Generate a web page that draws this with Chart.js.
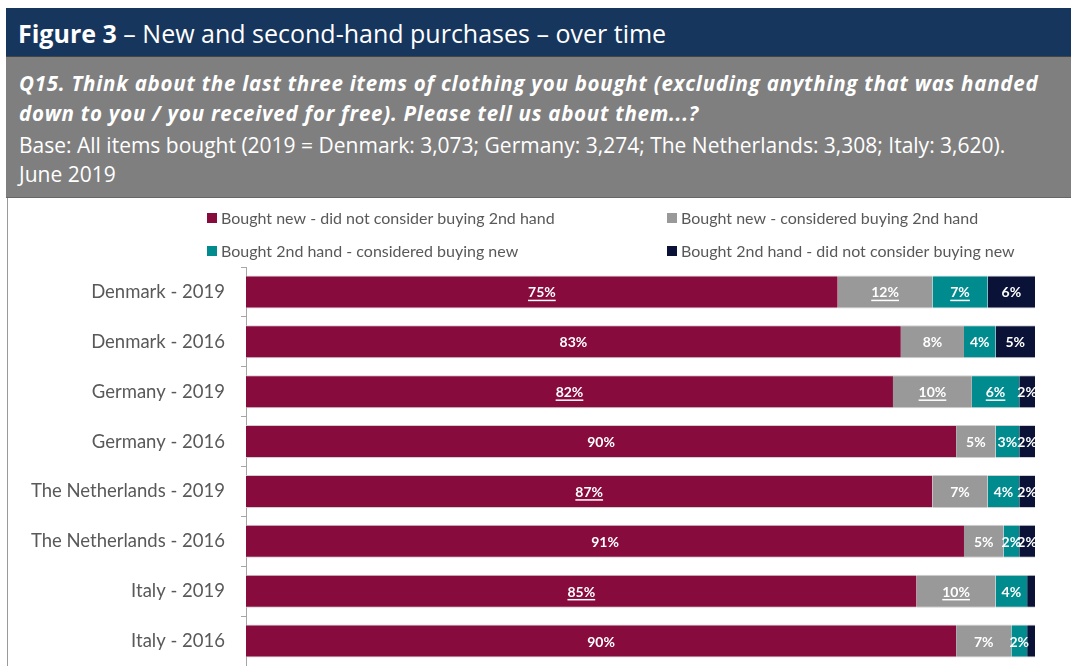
<!DOCTYPE html>
<html>
<head>
<meta charset="utf-8">
<script src="https://cdn.jsdelivr.net/npm/chart.js@4/dist/chart.umd.min.js"></script>
<style>
  html, body { margin: 0; padding: 0; background: #fff; width: 1071px; height: 666px; overflow: hidden; }
  #title { position: absolute; left: 6px; top: 8px; width: 1065px; height: 49px; background: #17365d; color: #fff;
           font-family: "Open Sans", sans-serif; font-size: 25px; line-height: 50px; box-sizing: border-box; padding-left: 12px; white-space: nowrap;
           border-bottom: 1px solid #444; }
  #title b { font-weight: 700; }
  #sub { position: absolute; left: 6px; top: 57px; width: 1065px; height: 141px; background: #7f7f7f; color: #fff;
         font-family: "Open Sans", sans-serif; box-sizing: border-box; padding: 11px 0 0 13px;
         border-bottom: 1px solid #666; }
  #sub .q { font-weight: 700; font-style: italic; font-size: 20.5px; line-height: 30px; letter-spacing: 0.75px; white-space: nowrap; }
  #sub .b { font-size: 21px; line-height: 29px; margin-top: 3px; white-space: nowrap; }
  #box { position: absolute; left: 7px; top: 198px; width: 1064px; height: 468px; border-left: 1px solid #9a9a9a; }
  #wrap { position: absolute; left: 8px; top: 198px; width: 1063px; height: 468px; }
  canvas { display: block; }
</style>
</head>
<body>
<div id="title"><b>Figure 3</b> – New and second-hand purchases – over time</div>
<div id="sub"><div class="q">Q15. Think about the last three items of clothing you bought (excluding anything that was handed<br>down to you / you received for free). Please tell us about them...?</div><div class="b">Base: All items bought (2019 = Denmark: 3,073; Germany: 3,274; The Netherlands: 3,308; Italy: 3,620).<br>June 2019</div></div>
<div id="box"></div>
<div id="wrap"><canvas id="c" width="1063" height="468"></canvas></div>
<script>
const categories = ["Denmark - 2019", "Denmark - 2016", "Germany - 2019", "Germany - 2016",
                    "The Netherlands - 2019", "The Netherlands - 2016", "Italy - 2019", "Italy - 2016"];
const seriesNames = ["Bought new - did not consider buying 2nd hand", "Bought new - considered buying 2nd hand",
                     "Bought 2nd hand - considered buying new", "Bought 2nd hand - did not consider buying new"];
const newNoConsider   = [75, 83, 82, 90, 87, 91, 85, 90];
const newConsidered   = [12,  8, 10,  5,  7,  5, 10,  7];
const usedConsidered  = [ 7,  4,  6,  3,  4,  2,  4,  2];
const usedNoConsider  = [ 6,  5,  2,  2,  2,  2,  1,  1];
// significance flags (underlined labels)
const sigNewNo   = [1, 0, 1, 0, 1, 0, 1, 0];
const sigNewCon  = [1, 0, 1, 0, 0, 0, 1, 0];
const sigUsedCon = [1, 0, 1, 0, 0, 0, 0, 0];
const sigUsedNo  = [0, 0, 0, 0, 0, 0, 0, 0];
const colors = ["#880b3d", "#999999", "#008b8f", "#0b1237"];

const allValues = [newNoConsider, newConsidered, usedConsidered, usedNoConsider];
const allSig = [sigNewNo, sigNewCon, sigUsedCon, sigUsedNo];

const legendPlugin = {
  id: 'customLegend',
  afterDraw(chart) {
    const ctx = chart.ctx;
    ctx.save();
    ctx.font = '16px Lato, sans-serif';
    ctx.textBaseline = 'middle';
    const pos = [[199, 20], [659, 20], [199, 53], [659, 53]];
    chart.data.datasets.forEach((ds, i) => {
      const [x, y] = pos[i];
      ctx.fillStyle = ds.backgroundColor;
      ctx.fillRect(x, y - 5, 10, 10);
      ctx.fillStyle = '#595959';
      ctx.fillText(ds.label, x + 14, y + 1);
    });
    ctx.restore();
  }
};

const labelPlugin = {
  id: 'barLabels',
  afterDatasetsDraw(chart) {
    const ctx = chart.ctx;
    ctx.save();
    ctx.font = 'bold 14px Lato, sans-serif';
    ctx.fillStyle = '#ffffff';
    ctx.strokeStyle = '#ffffff';
    ctx.textAlign = 'center';
    ctx.textBaseline = 'middle';
    chart.data.datasets.forEach((ds, di) => {
      const meta = chart.getDatasetMeta(di);
      meta.data.forEach((bar, i) => {
        const v = ds.data[i];
        if (v < 2) return;
        const cx = (bar.x + bar.base) / 2;
        const cy = bar.y + 1;
        const txt = v + '%';
        ctx.fillText(txt, cx, cy);
        if (allSig[di][i]) {
          const w = ctx.measureText(txt).width;
          ctx.lineWidth = 1.5;
          ctx.beginPath();
          ctx.moveTo(cx - w / 2, cy + 7.5);
          ctx.lineTo(cx + w / 2, cy + 7.5);
          ctx.stroke();
        }
      });
    });
    ctx.restore();
  }
};

new Chart(document.getElementById('c'), {
  type: 'bar',
  data: {
    labels: categories,
    datasets: allValues.map((vals, i) => ({
      label: seriesNames[i],
      data: vals,
      backgroundColor: colors[i],
      borderColor: '#cfcfcf',
      borderWidth: { top: 1, bottom: 1, left: 0, right: 0 },
      borderSkipped: false,
      barPercentage: 0.66,
      categoryPercentage: 1.0
    }))
  },
  options: {
    indexAxis: 'y',
    responsive: false,
    animation: false,
    layout: { padding: { top: 69, right: 36, bottom: 0, left: 0 } },
    plugins: { legend: { display: false }, tooltip: { enabled: false } },
    scales: {
      x: { stacked: true, min: 0, max: 100, display: false },
      y: {
        stacked: true,
        afterFit(scale) { scale.width = 238; scale.paddingTop = 0; scale.paddingBottom = 0; },
        grid: { offset: true, drawOnChartArea: false, drawTicks: true, tickLength: 5, color: '#a6a6a6' },
        border: { display: true, color: '#a6a6a6', width: 1 },
        ticks: { color: '#595959', font: { family: 'Lato, sans-serif', size: 18.5 }, padding: 16 }
      }
    }
  },
  plugins: [legendPlugin, labelPlugin]
});
</script>
</body>
</html>
